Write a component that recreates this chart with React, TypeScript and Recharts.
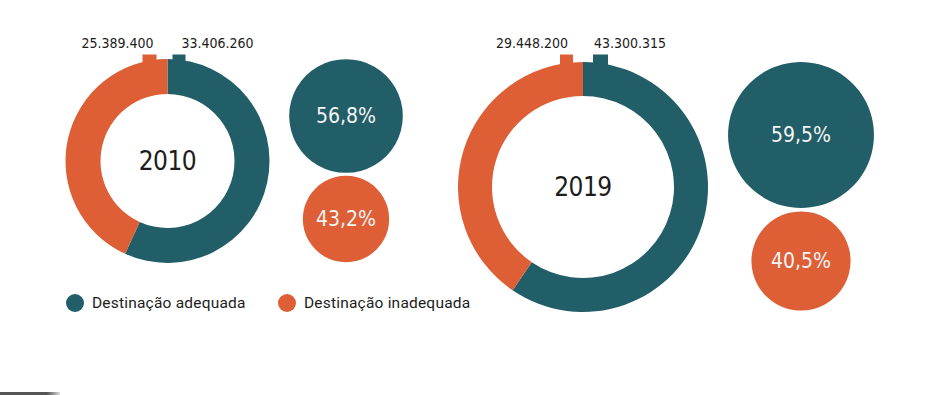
import React from 'react';
import { PieChart, Pie, Cell, Legend } from 'recharts';

// ---- data ----
const years = ['2010', '2019'];
const seriesNames = ['Destinação adequada', 'Destinação inadequada'];
const adequada = [33406260, 43300315];
const inadequada = [25389400, 29448200];

// ---- style ----
const COLORS = ['#215e67', '#de5e36'];
const TEXT = '#1c1c1c';
const COND = "'DejaVu Sans Condensed', 'DejaVu Sans', sans-serif";
const LEGEND_FONT = "Roboto, 'Noto Sans', sans-serif";

// ---- layout (pixels) ----
const panels = [
  { cx: 167.5, cy: 161, inner: 67, outer: 102, circleX: 346, circleY: [116, 219], tabs: [[5, 18], [-25, -11]], labelDx: [50, -50] },
  { cx: 583, cy: 187, inner: 91, outer: 125, circleX: 801, circleY: [135, 261], tabs: [[10, 25], [-23, -10]], labelDx: [47, -51] },
];
const TAB_TOP = 54.5;
const LABEL_Y = 48;
const BASE_OUTER = 102;

const fmt = (v: number) => String(v).replace(/\B(?=(\d{3})+(?!\d))/g, '.');
const pct = (a: number, b: number) => (a / (a + b)) * 100;
const fmtPct = (p: number) => p.toFixed(1).replace('.', ',') + '%';

const makeDonutLabel = (pi: number) => (props: any) => {
  const { cx, cy, outerRadius, index, value } = props;
  const p = panels[pi];
  const tab = p.tabs[index];
  const top = cy - outerRadius;
  return (
    <g key={`lbl-${pi}-${index}`}>
      <rect x={cx + tab[0]} y={TAB_TOP} width={tab[1] - tab[0]} height={top - TAB_TOP + 4} fill={COLORS[index]} />
      <text x={cx + p.labelDx[index]} y={LABEL_Y} textAnchor="middle" fontFamily={COND} style={{ fontStretch: 'condensed' }} fontSize={14} fill={TEXT}>
        {fmt(value)}
      </text>
      {index === 0 ? (
        <text x={cx} y={cy} textAnchor="middle" dominantBaseline="central" fontFamily={COND} style={{ fontStretch: 'condensed' }} fontSize={26} letterSpacing={-0.5} fill={TEXT}>
          {years[pi]}
        </text>
      ) : null}
    </g>
  );
};

const makeCircleLabel = (text: string) => (props: any) => {
  const { cx, cy } = props;
  return (
    <text x={cx} y={cy} textAnchor="middle" dominantBaseline="central" fontFamily={COND} style={{ fontStretch: 'condensed' }} fontSize={21} fill="#f4f4f4">
      {text}
    </text>
  );
};

const LegendContent = () => (
  <div style={{ position: 'relative', height: 22, width: 420 }}>
    {seriesNames.map((n, i) => (
      <div key={n} style={{ position: 'absolute', left: i === 0 ? 0 : 212, top: 0, display: 'flex', alignItems: 'center', height: 22 }}>
        <span style={{ display: 'inline-block', width: 18, height: 18, borderRadius: 9, background: COLORS[i], marginRight: 8 }} />
        <span style={{ fontFamily: LEGEND_FONT, fontSize: 15.5, color: TEXT, letterSpacing: 0.2, whiteSpace: 'nowrap' }}>{n}</span>
      </div>
    ))}
  </div>
);

export default function App() {
  return (
    <div style={{ position: 'absolute', left: 0, top: 0, width: 943, height: 395, background: '#fff', overflow: 'hidden' }}>
      <PieChart width={943} height={395} margin={{ top: 0, right: 0, bottom: 0, left: 0 }}>
        {panels.map((p, pi) => {
          const data = [
            { name: seriesNames[0], value: adequada[pi] },
            { name: seriesNames[1], value: inadequada[pi] },
          ];
          return (
            <Pie
              key={`donut-${pi}`}
              data={data}
              dataKey="value"
              cx={p.cx}
              cy={p.cy}
              innerRadius={p.inner}
              outerRadius={p.outer}
              startAngle={90}
              endAngle={-270}
              stroke="none"
              label={makeDonutLabel(pi)}
              labelLine={false}
              isAnimationActive={false}
            >
              {data.map((d, i) => (
                <Cell key={i} fill={COLORS[i]} />
              ))}
            </Pie>
          );
        })}
        {panels.map((p, pi) =>
          [adequada[pi], inadequada[pi]].map((v, i) => {
            const share = pct(v, i === 0 ? inadequada[pi] : adequada[pi]);
            const r = share * (p.outer / BASE_OUTER);
            return (
              <Pie
                key={`circle-${pi}-${i}`}
                data={[{ name: seriesNames[i], value: share }]}
                dataKey="value"
                cx={p.circleX}
                cy={p.circleY[i]}
                innerRadius={0}
                outerRadius={r}
                startAngle={90}
                endAngle={-270}
                stroke="none"
                fill={COLORS[i]}
                label={makeCircleLabel(fmtPct(share))}
                labelLine={false}
                isAnimationActive={false}
              />
            );
          })
        )}
        <Legend content={() => <LegendContent />} wrapperStyle={{ left: 66, top: 292, bottom: 'auto', width: 420, height: 22 }} />
      </PieChart>
      <div style={{ position: 'absolute', left: 0, top: 392, width: 60, height: 3, background: 'linear-gradient(to right, #555 0, #555 47px, #ddd 60px)' }} />
    </div>
  );
}
